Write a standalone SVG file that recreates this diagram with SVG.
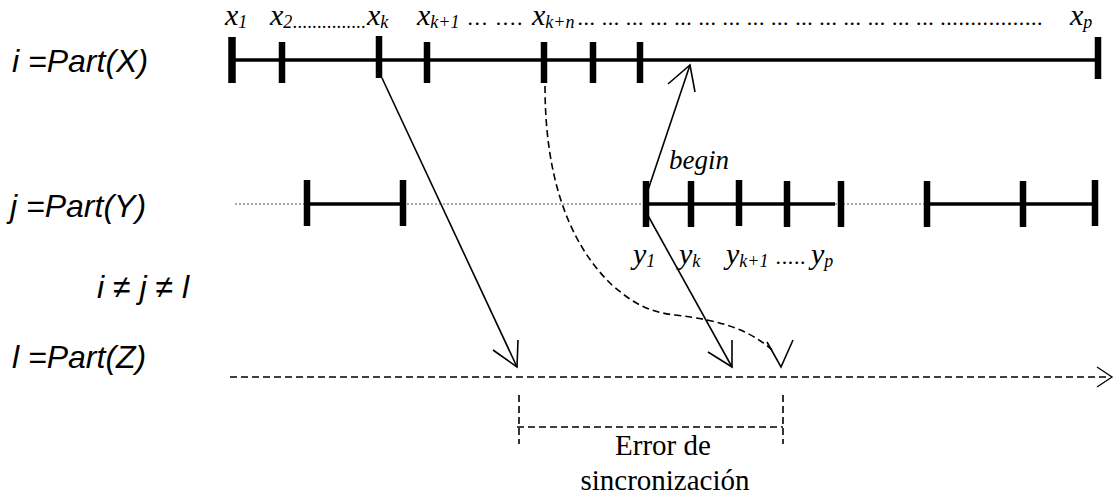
<svg xmlns="http://www.w3.org/2000/svg" width="1114" height="495" viewBox="0 0 1114 495">
<style>
.lbl{font-family:"Liberation Sans",Arial,sans-serif;font-style:italic;font-size:32px;fill:#000}
.mx{font-family:"Liberation Serif","Times New Roman",serif;font-style:italic;font-size:30px;fill:#000}
.sb{font-size:18px}
.dt{font-family:"Liberation Serif","Times New Roman",serif;font-style:italic;font-size:18px;fill:#000}
.rm{font-family:"Liberation Serif","Times New Roman",serif;font-size:29px;fill:#000}
.axis{stroke:#000;stroke-width:3.5;fill:none}
.tick{stroke:#000;stroke-width:6.5;fill:none}
.conn{stroke:#000;stroke-width:1.6;fill:none}
.dash{stroke:#000;stroke-width:1.6;fill:none;stroke-dasharray:7,4}
.dotline{stroke:#555;stroke-width:1;fill:none;stroke-dasharray:2,2}
</style>
<rect width="1114" height="495" fill="#fff"/>
<g id="labels">
<text class="lbl" x="12" y="72">i =Part(X)</text>
<text class="lbl" x="10" y="217">j =Part(Y)</text>
<text class="lbl" x="97" y="298">i ≠ j ≠ l</text>
<text class="lbl" x="12" y="368">l =Part(Z)</text>
</g>
<g id="axis-x">
<line class="axis" x1="232" y1="60" x2="1097" y2="60"/>
<line class="tick" x1="232" y1="37" x2="232" y2="83" style="stroke-width:7.5"/>
<line class="tick" x1="282" y1="42" x2="282" y2="83"/>
<line class="tick" x1="379" y1="36" x2="379" y2="78"/>
<line class="tick" x1="427" y1="42" x2="427" y2="83"/>
<line class="tick" x1="544" y1="42" x2="544" y2="83"/>
<line class="tick" x1="593" y1="42" x2="593" y2="83"/>
<line class="tick" x1="640" y1="42" x2="640" y2="83"/>
<line class="tick" x1="1098" y1="37" x2="1098" y2="79"/>
<text class="mx" x="225" y="25">x<tspan class="sb" dy="3">1</tspan></text>
<text class="mx" x="270" y="25">x<tspan class="sb" dy="3">2</tspan></text>
<text class="dt" x="293" y="28" textLength="73" lengthAdjust="spacing">...............</text>
<text class="mx" x="367" y="25">x<tspan class="sb" dy="3">k</tspan></text>
<text class="mx" x="417" y="25">x<tspan class="sb" dy="3">k+1</tspan></text>
<text class="dt" x="468" y="25" style="font-size:22px" textLength="55" lengthAdjust="spacing">... ....</text>
<text class="mx" x="532" y="25">x<tspan class="sb" dy="3">k+n</tspan></text>
<text class="dt" x="578" y="25" style="font-size:22px" textLength="465" lengthAdjust="spacing">... ... ... ... ... ... ... ... ... ... ... ... ... ... ... .................</text>
<text class="mx" x="1070" y="25">x<tspan class="sb" dy="3">p</tspan></text>
</g>
<g id="axis-y">
<line class="dotline" x1="235" y1="204" x2="1097" y2="204"/>
<line class="axis" x1="307" y1="204" x2="403" y2="204"/>
<line class="axis" x1="646" y1="204" x2="835" y2="204"/>
<line class="axis" x1="927" y1="204" x2="1095" y2="204"/>
<line class="tick" x1="307" y1="180" x2="307" y2="226"/>
<line class="tick" x1="403" y1="180" x2="403" y2="226"/>
<line class="tick" x1="646" y1="181" x2="646" y2="227"/>
<line class="tick" x1="691" y1="181" x2="691" y2="227"/>
<line class="tick" x1="739" y1="180" x2="739" y2="226"/>
<line class="tick" x1="787" y1="181" x2="787" y2="227"/>
<line class="tick" x1="841" y1="181" x2="841" y2="227"/>
<line class="tick" x1="927" y1="181" x2="927" y2="227"/>
<line class="tick" x1="1023" y1="181" x2="1023" y2="227"/>
<line class="tick" x1="1095" y1="180" x2="1095" y2="226"/>
<text class="mx" x="633" y="264">y<tspan class="sb" dy="3">1</tspan></text>
<text class="mx" x="679" y="264">y<tspan class="sb" dy="3">k</tspan></text>
<text class="mx" x="726" y="264">y<tspan class="sb" dy="3">k+1</tspan></text>
<text class="dt" x="776" y="264" style="font-size:22px" textLength="30" lengthAdjust="spacing">.....</text>
<text class="mx" x="811" y="264">y<tspan class="sb" dy="3">p</tspan></text>
<text class="mx" x="669" y="169" style="font-size:27px">begin</text>
</g>
<g id="axis-z">
<line class="dash" x1="230" y1="377" x2="1108" y2="377" style="stroke-width:1.3"/>
<polyline class="conn" points="1097,367 1112,377 1097,387" style="stroke-width:1.3"/>
</g>
<g id="error-bracket">
<line class="dash" x1="519" y1="395" x2="519" y2="444"/>
<line class="dash" x1="783" y1="395" x2="783" y2="444"/>
<line class="dash" x1="517" y1="427" x2="783" y2="427"/>
<text class="rm" x="663" y="455" text-anchor="middle">Error de</text>
<text class="rm" x="665" y="490" text-anchor="middle">sincronización</text>
</g>
<g id="connectors">
<line class="conn" x1="382" y1="78" x2="517" y2="367"/>
<polyline class="conn" points="493,350 517,367 518,340"/>
<line class="conn" x1="646" y1="196" x2="690" y2="65"/>
<polyline class="conn" points="668,84 690,65 695,92"/>
<line class="conn" x1="646" y1="212" x2="732" y2="367"/>
<polyline class="conn" points="708,352 732,367 732,340"/>
<path class="dash" d="M545,86 C545,170 565,240 612,285 C635,305 650,312 675,315 C720,320 750,330 772,350"/>
<polyline class="conn" points="767,342 781,367 793,340"/>
</g>
</svg>
